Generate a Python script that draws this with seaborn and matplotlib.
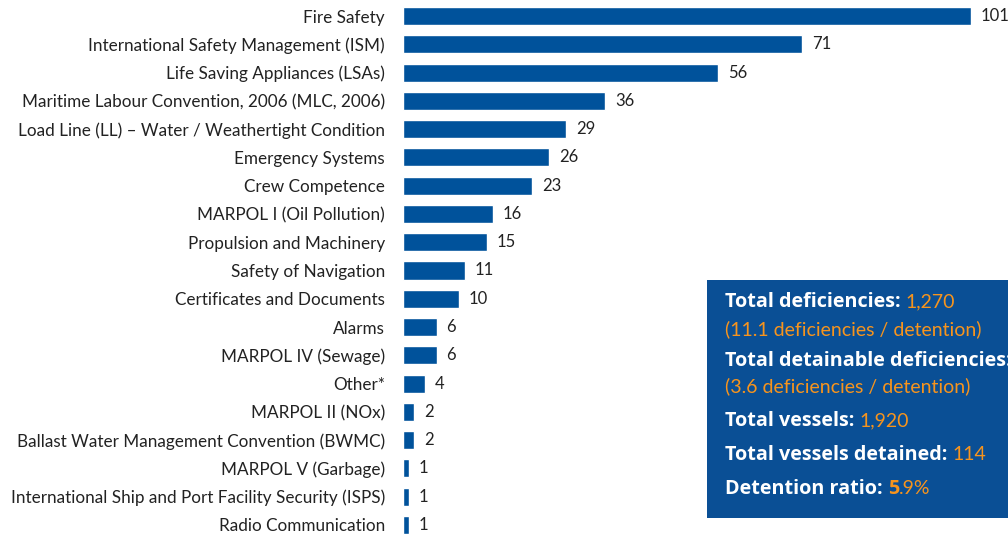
import pandas as pd
import matplotlib.pyplot as plt
import seaborn as sns

categories = [
    'Fire Safety',
    'International Safety Management (ISM)',
    'Life Saving Appliances (LSAs)',
    'Maritime Labour Convention, 2006 (MLC, 2006)',
    'Load Line (LL) – Water / Weathertight Condition',
    'Emergency Systems',
    'Crew Competence',
    'MARPOL I (Oil Pollution)',
    'Propulsion and Machinery',
    'Safety of Navigation',
    'Certificates and Documents',
    'Alarms',
    'MARPOL IV (Sewage)',
    'Other*',
    'MARPOL II (NOx)',
    'Ballast Water Management Convention (BWMC)',
    'MARPOL V (Garbage)',
    'International Ship and Port Facility Security (ISPS)',
    'Radio Communication',
]
counts = [101, 71, 56, 36, 29, 26, 23, 16, 15, 11, 10, 6, 6, 4, 2, 2, 1, 1, 1]

# summary box lines: (bold white part, orange part)
box_lines = [
    ('Total deficiencies: ', '1,270'),
    ('', '(11.1 deficiencies / detention)'),
    ('Total detainable deficiencies:', ''),
    ('', '(3.6 deficiencies / detention)'),
    ('Total vessels: ', '1,920'),
    ('Total vessels detained: ', '114'),
    ('Detention ratio: ', '5.9%'),
]

BLUE = '#00529b'
BOX = '#0a4f95'
ORANGE = '#f7941d'


def main():
    sns.set_style('white')
    plt.rcParams['font.family'] = ['Lato', 'DejaVu Sans']

    df = pd.DataFrame({'category': categories, 'count': counts})

    fig = plt.figure(figsize=(10.08, 5.35), dpi=100)
    ax = fig.add_axes([403 / 1008, -0.0077, 568 / 1008, 1.0042])
    sns.barplot(data=df, x='count', y='category', color=BLUE, width=0.64,
                saturation=1, ax=ax)
    ax.set_xlim(0, 101)
    ax.set_xlabel('')
    ax.set_ylabel('')
    ax.set_xticks([])
    sns.despine(ax=ax, left=True, bottom=True)
    ax.tick_params(axis='y', length=0, pad=13, labelsize=12.3, labelcolor='#222222')

    for i, v in enumerate(counts):
        ax.annotate(str(v), xy=(v, i), xytext=(7, 0), textcoords='offset points',
                    va='center', ha='left', fontsize=12, color='#222222',
                    annotation_clip=False)

    # summary box as its own axes so it sits on top
    bx = fig.add_axes([707 / 1008, (535 - 518) / 535, 0.4, (518 - 280) / 535])
    bx.set_facecolor(BOX)
    bx.set_xticks([])
    bx.set_yticks([])
    for s in bx.spines.values():
        s.set_visible(False)

    ys = [302, 329, 361, 386, 421, 455, 489]
    bold_kw = dict(color='white', fontsize=14.2, fontweight='bold',
                   family=['Open Sans', 'DejaVu Sans'], va='center', ha='left')
    light_kw = dict(color=ORANGE, fontsize=14, va='center', ha='left',
                    annotation_clip=False)
    for (bold, light), y in zip(box_lines, ys):
        yf = (535 - y) / 535
        if bold:
            t = fig.text(725 / 1008, yf, bold, **bold_kw)
            if light == '5.9%':
                t2 = bx.annotate('5', xy=(1, 0.5), xycoords=t, color=ORANGE,
                                 fontsize=14.2, fontweight='bold',
                                 family=['Open Sans', 'DejaVu Sans'],
                                 va='center', ha='left', annotation_clip=False)
                bx.annotate('.9%', xy=(1, 0.5), xycoords=t2, **light_kw)
            elif light:
                bx.annotate(light, xy=(1, 0.5), xycoords=t, **light_kw)
        else:
            fig.text(725 / 1008, yf, light, color=ORANGE, fontsize=14,
                     va='center', ha='left')

    plt.savefig('out.png', dpi=100)
    plt.close()


if __name__ == '__main__':
    main()
